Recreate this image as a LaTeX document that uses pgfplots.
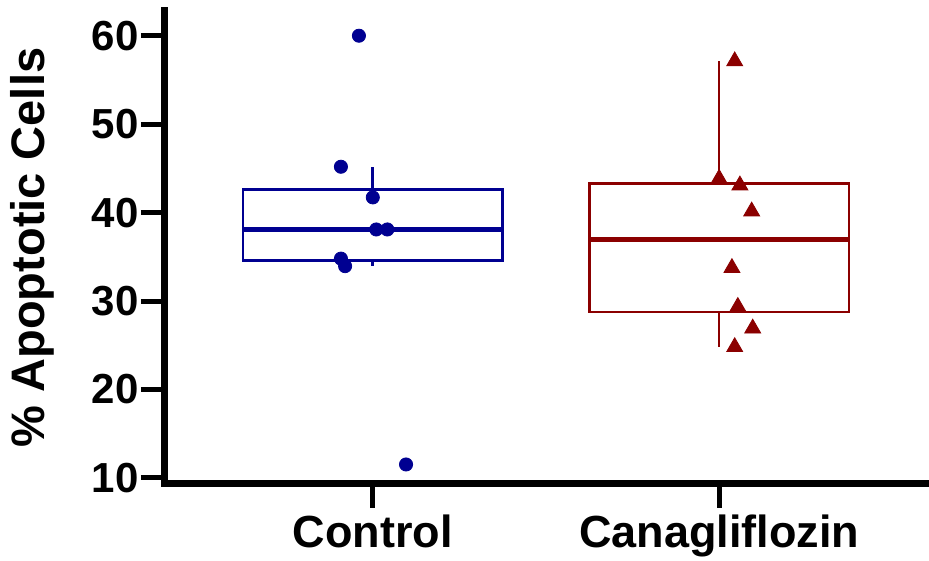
\documentclass[border=0pt]{standalone}
\usepackage{fontspec}
\setmainfont{Liberation Sans}
\usepackage{pgfplots}
\pgfplotsset{compat=1.18}
\definecolor{ctrlblue}{RGB}{0,0,145}
\definecolor{canared}{RGB}{139,0,0}
\begin{document}
\begin{tikzpicture}
\begin{axis}[
  scale only axis, width=382pt, height=236.5pt,
  xmin=0.4, xmax=2.606, ymin=9.29, ymax=62.83,
  axis x line=bottom, axis y line=left,
  axis line style={-, line width=3.5pt, line cap=rect},
  xtick={1,2}, xticklabels={Control,Canagliflozin},
  ytick={10,20,30,40,50,60},
  minor tick num=0,
  tick align=outside, major tick length=12pt,
  every tick/.style={black, line width=2.5pt},
  /pgf/number format/assume math mode=true,
  yticklabel style={font=\bfseries\fontsize{21}{25}\selectfont, inner sep=1pt},
  xticklabel style={font=\bfseries\fontsize{22.5}{27}\selectfont},
  ylabel={\% Apoptotic Cells},
  every axis y label/.style={font=\bfseries\fontsize{23.5}{28}\selectfont, at={(axis description cs:-0.1440,0.5)}, anchor=south, rotate=90, inner sep=0pt},
  clip=false,
]
\coordinate (sw) at (rel axis cs:0,0);
\coordinate (ne) at (rel axis cs:1,1);
% Control box: Q1 34.6, median 38.1, Q3 42.6, whiskers 33.95 / 45.2
\addplot[ctrlblue, line width=1.3pt, mark=none, line join=miter] coordinates {(0.625,34.6) (1.375,34.6) (1.375,42.6) (0.625,42.6)} -- cycle;
\addplot[ctrlblue, line width=2.6pt, mark=none] coordinates {(0.625,38.1) (1.375,38.1)};
\addplot[ctrlblue, line width=1.3pt, mark=none] coordinates {(1,42.6) (1,45.2)};
\addplot[ctrlblue, line width=1.3pt, mark=none] coordinates {(1,34.6) (1,33.95)};
% Canagliflozin box: Q1 28.74, median 36.95, Q3 43.29, whiskers 24.8 / 57.15
\addplot[canared, line width=1.3pt, mark=none, line join=miter] coordinates {(1.625,28.74) (2.375,28.74) (2.375,43.29) (1.625,43.29)} -- cycle;
\addplot[canared, line width=2.6pt, mark=none] coordinates {(1.625,36.95) (2.375,36.95)};
\addplot[canared, line width=1.3pt, mark=none] coordinates {(2,43.29) (2,57.15)};
\addplot[canared, line width=1.3pt, mark=none] coordinates {(2,28.74) (2,24.8)};
\addplot[only marks, mark=*, mark size=3.3pt, color=ctrlblue] coordinates {
(0.960,60.03) (0.908,45.2) (1.0,41.73) (1.01,38.1) (1.042,38.1) (0.908,34.8) (0.92,33.95) (1.096,11.5)};
\addplot[only marks, mark=triangle*, mark size=4.6pt, color=canared] coordinates {
(2.045,57.15) (2.0,43.85) (2.06,43.1) (2.094,40.15) (2.037,33.75) (2.054,29.35) (2.097,26.9) (2.045,24.8)};
\end{axis}
\pgfresetboundingbox
\path ([shift={(-82.5pt,-38.5pt)}]sw) rectangle ([shift={(0pt,5.5pt)}]ne);
\end{tikzpicture}
\end{document}
